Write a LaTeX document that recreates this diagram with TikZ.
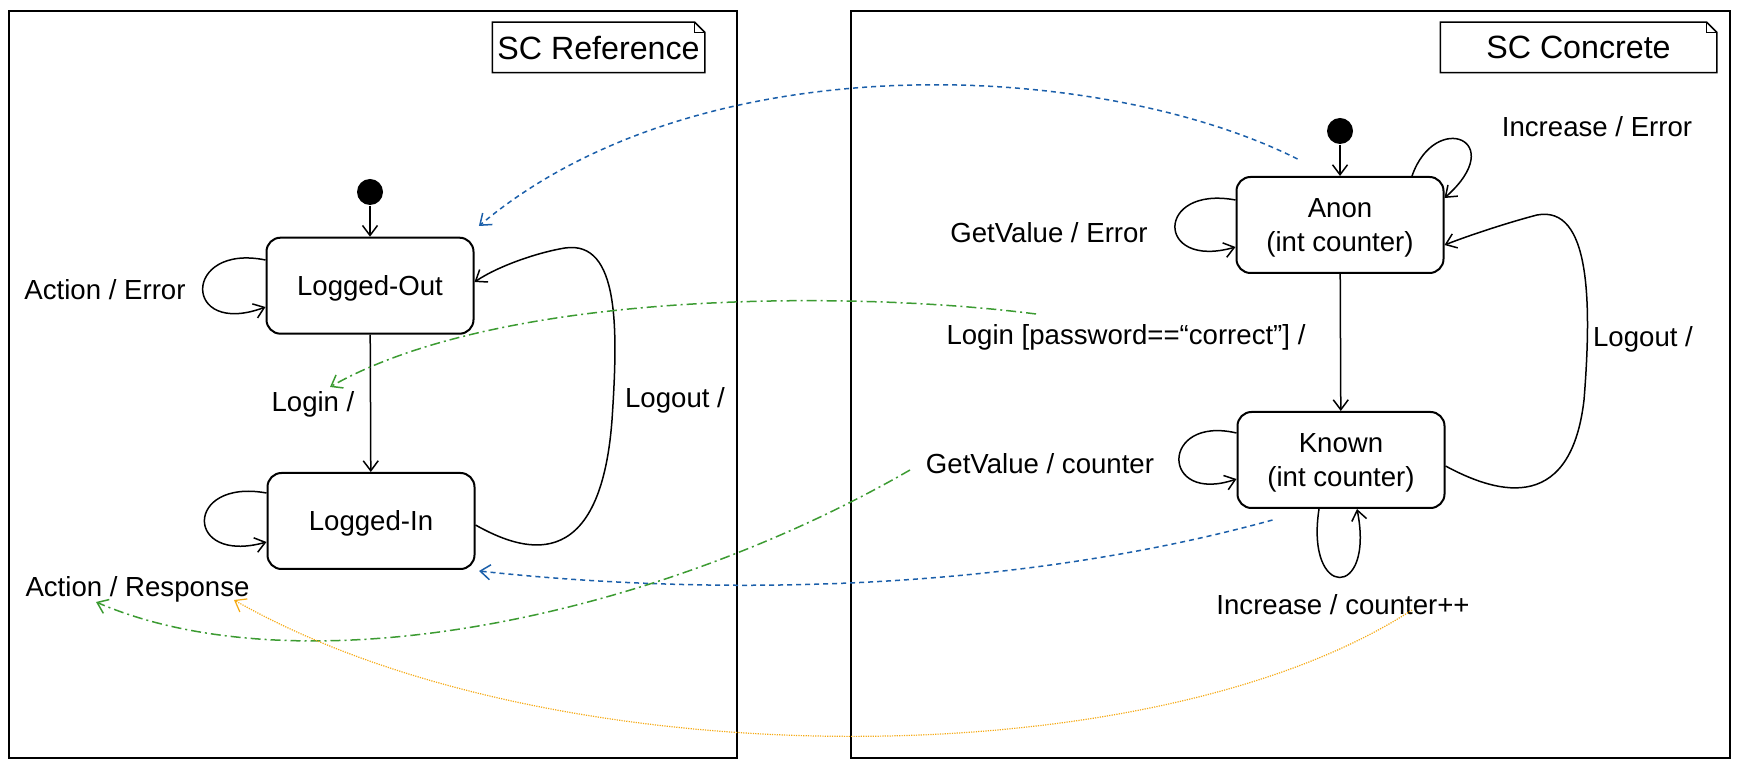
\documentclass[tikz,border=0pt]{standalone}
\usepackage{fontspec}
\setmainfont{Liberation Sans}
\usetikzlibrary{arrows.meta}

\newcommand{\diagfont}{\fontsize{13.8}{17}\selectfont}
\newcommand{\notefont}{\fontsize{16.1}{19}\selectfont}
\definecolor{mapblue}{RGB}{27,95,170}
\definecolor{mapgreen}{RGB}{60,155,50}
\definecolor{maporange}{RGB}{245,170,20}

\tikzset{
  state/.style={draw, line width=1pt, rounded corners=7pt, minimum width=103.5pt,
    minimum height=48pt, align=center, font=\diagfont, text depth=0pt},
  lbl/.style={font=\diagfont, inner sep=1pt, text depth=0pt},
  notebox/.style={font=\notefont, minimum height=24.5pt, inner sep=0pt, text depth=0pt},
  initdot/.style={circle, fill=black, minimum size=13pt, inner sep=0pt},
  mapdash/.style={mapblue, dash pattern=on 2.5pt off 2pt},
  mapdashdot/.style={mapgreen, dash pattern=on 5pt off 2pt on 1pt off 2pt},
  mapdot/.style={maporange, line width=0.6pt, dash pattern=on 0.6pt off 0.6pt},
}

\begin{document}
\begin{tikzpicture}[x=0.5pt,y=-0.5pt,line width=0.75pt,
    >={Straight Barb[length=5pt,width=7.5pt]}]
  \useasboundingbox (0,0) rectangle (1750,769);

  % the two charts
  \draw[line width=1pt] (9,11) rectangle (737,758);
  \draw[line width=1pt] (851,11) rectangle (1730,758);

  \node[notebox, minimum width=105.5pt] (refnote) at (598.5,47.5) {SC Reference};
  \draw (refnote.south west) -- (refnote.north west) -- ([xshift=-5pt]refnote.north east)
    -- ([yshift=-5pt]refnote.north east) -- (refnote.south east) -- cycle;
  \draw[line width=0.5pt] ([xshift=-5pt]refnote.north east) -- ++(0,-5pt)
    -- ([yshift=-5pt]refnote.north east);

  \node[notebox, minimum width=137.5pt] (connote) at (1578.5,47.5) {SC Concrete};
  \draw (connote.south west) -- (connote.north west) -- ([xshift=-5pt]connote.north east)
    -- ([yshift=-5pt]connote.north east) -- (connote.south east) -- cycle;
  \draw[line width=0.5pt] ([xshift=-5pt]connote.north east) -- ++(0,-5pt)
    -- ([yshift=-5pt]connote.north east);

  % SC Reference
  \node[initdot] (initL) at (370,192) {};
  \node[state] (lo) at (370,285.7) {Logged-Out};
  \node[state] (li) at (371,521) {Logged-In};

  \node[lbl] (aerr) at (105,290) {Action / Error};
  \node[lbl] (login) at (313,402) {Login /};
  \node[lbl] (logoutL) at (675,398) {Logout /};
  \node[lbl] (aresp) at (137.5,587) {Action / Response};

  \draw[->] (initL) -- (lo);
  \draw[->] (lo) -- (li);
  \draw[->] ([yshift=12.85pt]lo.west) .. controls (182,243) and (182,338) .. ([yshift=-10.65pt]lo.west);
  \draw[->] ([yshift=14pt]li.west) .. controls (184,478) and (184,565) .. ([yshift=-10.5pt]li.west);
  \draw[->] ([yshift=-2pt]li.east) .. controls (520,550) and (600,580) .. (612,420)
    .. controls (618,330) and (620,240) .. (565,248)
    .. controls (540,252) and (500,265) .. ([yshift=1.85pt]lo.east);

  % SC Concrete
  \node[initdot] (initR) at (1340,131) {};
  \node[state] (anon) at (1340,225) {Anon\\(int counter)};
  \node[state] (known) at (1341,460) {Known\\(int counter)};

  \node[lbl] (incerr) at (1597,127) {Increase / Error};
  \node[lbl] (gverr) at (1049,233) {GetValue / Error};
  \node[lbl] (loginpw) at (1126,335) {Login [password==“correct”] /};
  \node[lbl] (logoutR) at (1643,337) {Logout /};
  \node[lbl] (gvcnt) at (1040,464) {GetValue / counter};
  \node[lbl] (inccnt) at (1343,604) {Increase / counter++};

  \draw[->] (initR) -- (anon);
  \draw[->] (anon) -- (known);
  \draw[->] ([yshift=12.5pt]anon.west) .. controls (1155,185) and (1155,270) .. ([yshift=-11pt]anon.west);
  \draw[->] ([xshift=36pt]anon.north) .. controls (1435,110) and (1510,140) .. ([yshift=13.5pt]anon.east);
  \draw[->] ([yshift=13.5pt]known.west) .. controls (1160,415) and (1160,505) .. ([yshift=-9.5pt]known.west);
  \draw[->] ([xshift=-11pt]known.south) .. controls (1305,600) and (1375,600) .. ([xshift=8pt]known.south);
  \draw[->] ([yshift=-3pt]known.east) .. controls (1490,490) and (1570,520) .. (1584,400)
    .. controls (1592,300) and (1590,205) .. (1537,215)
    .. controls (1510,222) and (1470,235) .. ([yshift=-10pt]anon.east);

  % mapping between the charts
  \draw[->, mapdash] ([xshift=31pt,yshift=8.5pt]anon.north west)
    .. controls (1100,60) and (700,40) .. ([xshift=2.2pt,yshift=5.35pt]lo.north east);
  \draw[->, mapdash] ([xshift=18pt,yshift=-5.5pt]known.south west)
    .. controls (1000,595) and (700,595) .. ([xshift=1.75pt,yshift=-0.5pt]li.south east);
  \draw[->, mapdashdot] ([xshift=-45pt,yshift=10.5pt]loginpw.center)
    .. controls (850,290) and (500,290) .. ([xshift=8.5pt,yshift=7.5pt]login.center);
  \draw[->, mapdashdot] ([xshift=-65pt,yshift=-3pt]gvcnt.center)
    .. controls (650,620) and (300,690) .. ([xshift=-20.75pt,yshift=-7.5pt]aresp.center);
  \draw[->, mapdot] ([xshift=34.5pt,yshift=-3pt]inccnt.center)
    .. controls (1150,780) and (550,780) .. ([xshift=48.25pt,yshift=-6.5pt]aresp.center);
\end{tikzpicture}
\end{document}
